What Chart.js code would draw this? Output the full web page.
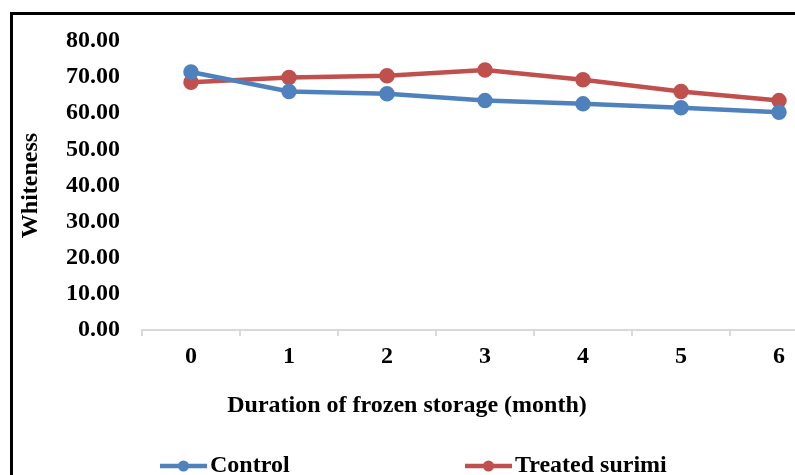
<!DOCTYPE html>
<html>
<head>
<meta charset="utf-8">
<script src="https://cdn.jsdelivr.net/npm/chart.js@4/dist/chart.umd.min.js"></script>
<style>
    html, body { margin: 0; padding: 0; background: #fff; overflow: hidden; }
    #frame { position: absolute; left: 10px; top: 12px; width: 1000px; height: 700px; border: 3px solid #000; }
    #wrap { position: absolute; left: 0; top: 0; width: 900px; height: 475px; }
</style>
</head>
<body>
<div id="frame"></div>
<div id="wrap"><canvas id="chart"></canvas></div>
<script>
(function () {
    'use strict';
    var months = ['0', '1', '2', '3', '4', '5', '6'];
    var control = [71.4, 66.0, 65.4, 63.5, 62.6, 61.5, 60.3];
    var treated = [68.6, 69.9, 70.4, 72.0, 69.3, 66.0, 63.5];
    var yTicks = [0, 10, 20, 30, 40, 50, 60, 70, 80];

    var blue = '#4f81bd';
    var red = '#c0504d';
    var family = "'Times New Roman', 'Liberation Serif', serif";
    var boldFont = { family: family, size: 24, weight: 'bold' };

    // x title and legend sit where Excel put them, not where Chart.js would
    var extras = {
        id: 'extras',
        afterDraw: function (chart) {
            var ctx = chart.ctx;
            ctx.save();
            ctx.fillStyle = '#000';
            ctx.font = 'bold 24px ' + family;
            ctx.textBaseline = 'middle';
            ctx.textAlign = 'center';
            ctx.fillText('Duration of frozen storage (month)', 407, 406);

            var legendX = [160, 465];
            ctx.textAlign = 'left';
            chart.data.datasets.forEach(function (ds, i) {
                var x = legendX[i], y = 466;
                ctx.strokeStyle = ds.borderColor;
                ctx.lineWidth = 4.5;
                ctx.beginPath();
                ctx.moveTo(x, y);
                ctx.lineTo(x + 47, y);
                ctx.stroke();
                ctx.fillStyle = ds.borderColor;
                ctx.beginPath();
                ctx.arc(x + 23.5, y, 5.5, 0, Math.PI * 2);
                ctx.fill();
                ctx.fillStyle = '#000';
                ctx.fillText(ds.label, x + 50, y);
            });
            ctx.restore();
        }
    };

    new Chart(document.getElementById('chart'), {
        type: 'line',
        data: {
            labels: months,
            datasets: [
                {
                    label: 'Control',
                    data: control,
                    borderColor: blue,
                    backgroundColor: blue,
                    pointBackgroundColor: blue,
                    pointBorderColor: blue,
                    borderWidth: 4.5,
                    pointRadius: 5.5,
                    tension: 0,
                    fill: false
                },
                {
                    label: 'Treated surimi',
                    data: treated,
                    borderColor: red,
                    backgroundColor: red,
                    pointBackgroundColor: red,
                    pointBorderColor: red,
                    borderWidth: 4.5,
                    pointRadius: 5.5,
                    tension: 0,
                    fill: false
                }
            ]
        },
        options: {
            responsive: true,
            maintainAspectRatio: false,
            animation: false,
            layout: { padding: { left: 0, right: 72, top: 41, bottom: 0 } },
            plugins: {
                legend: { display: false },
                tooltip: { enabled: false }
            },
            scales: {
                x: {
                    offset: true,
                    grid: { offset: true, drawOnChartArea: false, tickLength: 6, color: '#d9d9d9', lineWidth: 2 },
                    border: { color: '#d9d9d9', width: 2 },
                    ticks: { color: '#000', font: boldFont, padding: 6 },
                    afterFit: function (s) { s.height = 145; }
                },
                y: {
                    min: 0,
                    max: 80,
                    afterBuildTicks: function (s) {
                        s.ticks = yTicks.map(function (v) { return { value: v }; });
                    },
                    grid: { display: false },
                    border: { display: false },
                    ticks: {
                        color: '#000',
                        font: boldFont,
                        padding: 14,
                        callback: function (v) { return Number(v).toFixed(2); }
                    },
                    title: {
                        display: true,
                        text: 'Whiteness',
                        color: '#000',
                        font: boldFont,
                        padding: { top: 16, bottom: 0 }
                    },
                    afterFit: function (s) { s.width = 142; }
                }
            }
        },
        plugins: [extras]
    });
})();
</script>
</body>
</html>
